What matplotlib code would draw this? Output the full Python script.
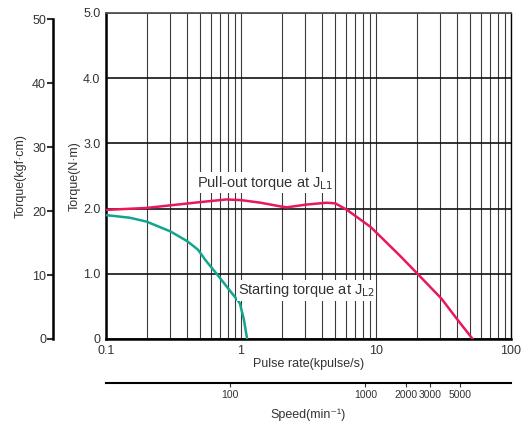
import matplotlib
matplotlib.use('Agg')
from matplotlib import pyplot as plt
from matplotlib.ticker import FixedLocator, NullLocator, FixedFormatter

plt.rcParams['font.family'] = ['Liberation Sans', 'DejaVu Sans']

# pull-out torque at JL1 (N·m) vs pulse rate (kpulse/s)
pullout_rate = [0.1, 0.2, 0.3, 0.5, 0.78, 1.0, 1.4, 2.0, 2.2, 3.0, 4.3, 5.0, 6.1, 9.1, 11.3, 15, 20.3, 30.5, 40, 52]
pullout_torque = [1.98, 2.01, 2.05, 2.10, 2.14, 2.13, 2.09, 2.03, 2.02, 2.06, 2.09, 2.08, 1.98, 1.72, 1.53, 1.28, 1.0, 0.62, 0.30, 0.0]

# starting torque at JL2
start_rate = [0.1, 0.15, 0.2, 0.3, 0.4, 0.48, 0.55, 0.66, 0.8, 0.98, 1.05, 1.11]
start_torque = [1.90, 1.86, 1.80, 1.65, 1.50, 1.37, 1.20, 1.0, 0.78, 0.55, 0.30, 0.0]

nm_ticks = [0, 1, 2, 3, 4, 5]
nm_labels = ['0', '1.0', '2.0', '3.0', '4.0', '5.0']
kgf_ticks = [0, 10, 20, 30, 40, 50]
rate_ticks = [0.1, 1, 10, 100]
rate_labels = ['0.1', '1', '10', '100']
speed_ticks = [100, 1000, 2000, 3000, 5000]
speed_labels = ['100', '1000', '2000', '3000', '5000']
rpm_per_kpps = 120
nm_per_kgfcm = 0.0980665

red = '#e8185a'
teal = '#13a58c'
txt = '#333333'

fig = plt.figure(figsize=(5.26, 4.22), dpi=100)
ax = fig.add_axes([0.2015, 0.1967, 0.770, 0.7725])

ax.set_xscale('log')
ax.set_xlim(0.1, 100)
ax.set_ylim(0, 5)
ax.grid(True, which='both', axis='x', color='#3a3a3a', lw=0.8)
ax.grid(True, which='major', axis='y', color='#111111', lw=1.2)
ax.set_axisbelow(True)

ax.plot(pullout_rate, pullout_torque, color=red, lw=1.8, zorder=3)
ax.plot(start_rate, start_torque, color=teal, lw=1.8, zorder=3)

ax.text(0.47, 2.4, 'Pull-out torque at J$_{\\rm L1}$', fontsize=10.5, va='center', ha='left', color=txt,
        bbox=dict(facecolor='white', edgecolor='none', pad=1), zorder=4)
ax.text(0.95, 0.75, 'Starting torque at J$_{\\rm L2}$', fontsize=10.5, va='center', ha='left', color=txt,
        bbox=dict(facecolor='white', edgecolor='none', pad=1), zorder=4)

ax.yaxis.set_major_locator(FixedLocator(nm_ticks))
ax.yaxis.set_major_formatter(FixedFormatter(nm_labels))
ax.xaxis.set_major_locator(FixedLocator(rate_ticks))
ax.xaxis.set_major_formatter(FixedFormatter(rate_labels))
ax.tick_params(axis='both', which='both', length=0, labelsize=9, colors=txt)
ax.tick_params(axis='y', pad=4)
ax.tick_params(axis='x', pad=4)
ax.set_ylabel('Torque(N·m)', fontsize=9, labelpad=2, color=txt)
ax.set_xlabel('Pulse rate(kpulse/s)', fontsize=9, labelpad=1, color=txt)
for side in ['left', 'bottom']:
    ax.spines[side].set_linewidth(1.8)
ax.spines['top'].set_linewidth(1.3)
ax.spines['top'].set_color('#555555')
ax.spines['right'].set_linewidth(1.0)

# kgf·cm axis
ax2 = fig.add_axes([0.1008, 0.1967, 0.001, 0.7725])
ax2.set_ylim(0, 5 / nm_per_kgfcm)
ax2.set_xticks([])
for side in ['top', 'right', 'bottom']:
    ax2.spines[side].set_visible(False)
ax2.spines['left'].set_bounds(0, 50)
ax2.spines['left'].set_linewidth(1.8)
ax2.patch.set_alpha(0)
ax2.yaxis.set_major_locator(FixedLocator(kgf_ticks))
ax2.tick_params(axis='y', length=4, width=1.5, labelsize=9, colors=txt, pad=1)
ax2.set_ylabel('Torque(kgf·cm)', fontsize=9, labelpad=4, color=txt)

# speed axis
ax3 = fig.add_axes([0.2015, 0.0924, 0.770, 0.001])
ax3.set_xscale('log')
ax3.set_xlim(0.1 * rpm_per_kpps, 100 * rpm_per_kpps)
ax3.set_yticks([])
for side in ['top', 'right', 'left']:
    ax3.spines[side].set_visible(False)
ax3.spines['bottom'].set_linewidth(1.5)
ax3.patch.set_alpha(0)
ax3.xaxis.set_major_locator(FixedLocator(speed_ticks))
ax3.xaxis.set_major_formatter(FixedFormatter(speed_labels))
ax3.xaxis.set_minor_locator(NullLocator())
ax3.tick_params(axis='x', length=3, width=0.8, labelsize=7.5, colors=txt, pad=2)
ax3.set_xlabel('Speed(min⁻¹)', fontsize=9, labelpad=6, color=txt)

plt.savefig('out.png', dpi=100)
